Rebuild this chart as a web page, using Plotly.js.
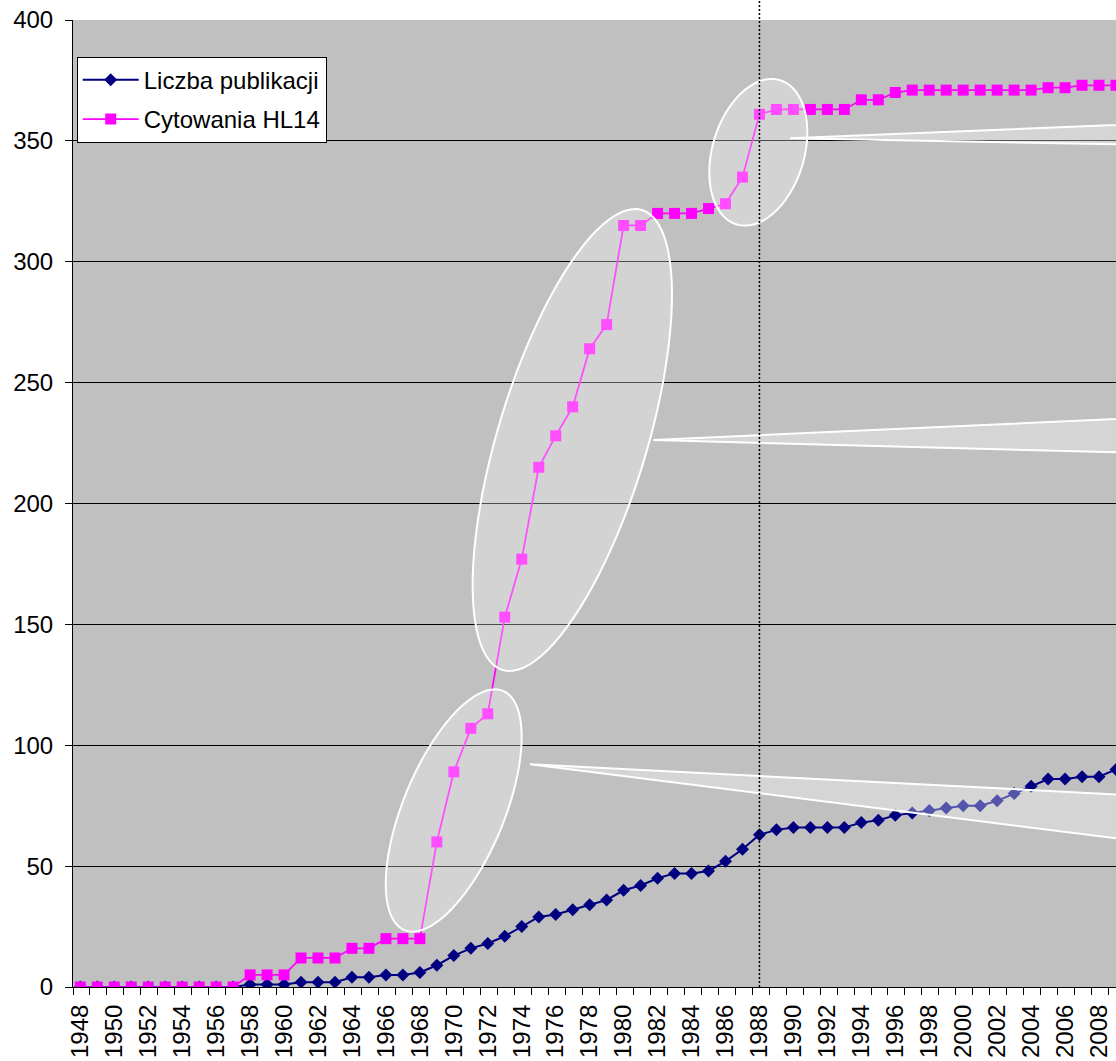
<!DOCTYPE html>
<html>
<head>
<meta charset="utf-8">
<script src="https://cdn.plot.ly/plotly-3.0.1.min.js"></script>
<style>html,body{margin:0;padding:0;background:#fff;}#chart{width:1116px;height:1061px;}</style>
</head>
<body>
<div id="chart"></div>
<script>
// ---- data ----
const years = [1948,1949,1950,1951,1952,1953,1954,1955,1956,1957,1958,1959,1960,1961,1962,1963,1964,1965,1966,1967,1968,1969,1970,1971,1972,1973,1974,1975,1976,1977,1978,1979,1980,1981,1982,1983,1984,1985,1986,1987,1988,1989,1990,1991,1992,1993,1994,1995,1996,1997,1998,1999,2000,2001,2002,2003,2004,2005,2006,2007,2008,2009];
const publications = [0,0,0,0,0,0,0,0,0,0,1,1,1,2,2,2,4,4,5,5,6,9,13,16,18,21,25,29,30,32,34,36,40,42,45,47,47,48,52,57,63,65,66,66,66,66,68,69,71,72,73,74,75,75,77,80,83,86,86,87,87,90];
const citations = [0,0,0,0,0,0,0,0,0,0,5,5,5,12,12,12,16,16,20,20,20,60,89,107,113,153,177,215,228,240,264,274,315,315,320,320,320,322,324,335,361,363,363,363,363,363,367,367,370,371,371,371,371,371,371,371,371,372,372,373,373,373];
const labelYears = [1948,1950,1952,1954,1956,1958,1960,1962,1964,1966,1968,1970,1972,1974,1976,1978,1980,1982,1984,1986,1988,1990,1992,1994,1996,1998,2000,2002,2004,2006,2008];
const yTicks = [0,50,100,150,200,250,300,350,400];
const seriesNames = ['Liczba publikacji','Cytowania HL14'];
const markedYear = 1988;

// ---- layout geometry (pixels) ----
const W = 1116, H = 1061;
const M = {l:73, r:0, t:20, b:74};
const PL = M.l, PR = W - M.r, PT = M.t, PB = H - M.b;
function toPaper(px, py){ return [(px-PL)/(PR-PL), (PB-py)/(PB-PT)]; }
function pathFrom(pts){
  return pts.map((p,i)=>{const q=toPaper(p[0],p[1]); return (i?'L':'M')+q[0].toFixed(5)+','+q[1].toFixed(5);}).join(' ')+' Z';
}
function ellipsePath(cx, cy, a, b, thDeg){
  const th = thDeg*Math.PI/180, s=Math.sin(th), c=Math.cos(th), pts=[];
  for(let i=0;i<96;i++){
    const t = 2*Math.PI*i/96;
    pts.push([cx + a*Math.cos(t)*s + b*Math.sin(t)*c, cy - a*Math.cos(t)*c + b*Math.sin(t)*s]);
  }
  return pathFrom(pts);
}
function wedgePath(tx, ty, uy, ly){
  // tip, then two points at the right image edge, extended off-canvas
  const ext = 1300, dx = W - tx;
  const u = ty + (uy-ty)*(ext-tx)/dx, l = ty + (ly-ty)*(ext-tx)/dx;
  return pathFrom([[tx,ty],[ext,u],[ext,l]]);
}
const calloutFill = 'rgba(255,255,255,0.3)';
const shapes = [
  {type:'path', xref:'paper', yref:'paper', layer:'above', path: ellipsePath(453.7, 810.5, 129.4, 50.6, 22.4), fillcolor: calloutFill, line:{color:'white', width:2}},
  {type:'path', xref:'paper', yref:'paper', layer:'above', path: wedgePath(530, 764.3, 794.4, 838.3), fillcolor: 'rgba(255,255,255,0.33)', line:{color:'white', width:2}},
  {type:'path', xref:'paper', yref:'paper', layer:'above', path: ellipsePath(572.3, 440, 240.3, 74.5, 16.85), fillcolor: calloutFill, line:{color:'white', width:2}},
  {type:'path', xref:'paper', yref:'paper', layer:'above', path: wedgePath(653.3, 440, 419, 452.3), fillcolor: 'rgba(255,255,255,0.33)', line:{color:'white', width:2}},
  {type:'path', xref:'paper', yref:'paper', layer:'above', path: ellipsePath(758.3, 152.3, 75.3, 45.9, 16.7), fillcolor: calloutFill, line:{color:'white', width:2}},
  {type:'path', xref:'paper', yref:'paper', layer:'above', path: wedgePath(790, 138.3, 125, 144.3), fillcolor: 'rgba(255,255,255,0.33)', line:{color:'white', width:2}},
  {type:'line', xref:'x', yref:'paper', layer:'above', x0: markedYear, x1: markedYear, y0: 0, y1: 1.03, line:{color:'black', width:1.5, dash:'2px,2px'}}
];

const FONT = 'Liberation Sans, Arial, sans-serif';
const traces = [
  {x: years, y: publications, name: seriesNames[0], type:'scatter', mode:'lines+markers', legendgroup:'a',
   line:{color:'#000080', width:2}, marker:{symbol:'diamond', size:10, color:'#000080'}},
  {x: years, y: citations, name: seriesNames[1], type:'scatter', mode:'lines+markers', legendgroup:'b',
   line:{color:'#FF00FF', width:1.75}, marker:{symbol:'square', size:11, color:'#FF00FF'}}
];
const layout = {
  width: W, height: H, margin: M,
  paper_bgcolor: 'white', plot_bgcolor: '#C0C0C0',
  font: {family: FONT, size: 24, color: 'black'},
  showlegend: true,
  legend: {x: (76.7-PL)/(PR-PL), y: (PB-56.7)/(PB-PT), xanchor:'left', yanchor:'top',
    bgcolor:'white', bordercolor:'black', borderwidth:1, font:{family:FONT, size:24, color:'black'},
    traceorder:'grouped', tracegroupgap: 5, itemwidth: 56},
  xaxis: {range:[1947.57, 2009.0], tickmode:'array', tickvals: labelYears, ticktext: labelYears.map(String),
    tickangle: -90, ticks:'outside', ticklen:7, tickcolor:'rgba(0,0,0,0)', tickfont:{family:FONT, size:24, color:'black'},
    minor:{tickmode:'linear', tick0:1947.57, dtick:1, ticks:'outside', ticklen:7, tickcolor:'black', tickwidth:1, showgrid:false},
    showgrid:false, zeroline:false, showline:true, linecolor:'black', linewidth:1, fixedrange:true},
  yaxis: {range:[0,400], tickmode:'array', tickvals: yTicks, ticktext: yTicks.map(String),
    ticks:'outside', ticklen:7, tickcolor:'black', ticklabelstandoff: 7, tickfont:{family:FONT, size:24, color:'black'},
    showgrid:true, gridcolor:'black', gridwidth:1, zeroline:false, showline:true, linecolor:'black', linewidth:1, fixedrange:true},
  shapes: shapes
};
Plotly.newPlot('chart', traces, layout, {displayModeBar:false, staticPlot:true});
</script>
</body>
</html>
